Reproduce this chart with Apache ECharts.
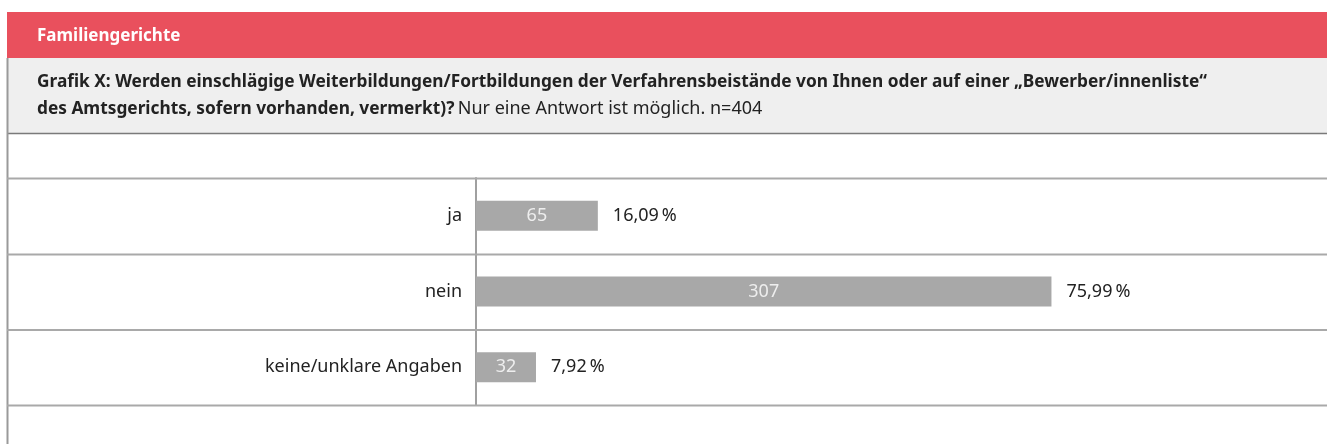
<!DOCTYPE html>
<html>
<head>
<meta charset="utf-8">
<script src="https://cdn.jsdelivr.net/npm/echarts@6/dist/echarts.min.js"></script>
<style>
    html, body { margin: 0; padding: 0; background: #fff; }
    #chart { width: 1327px; height: 444px; }
</style>
</head>
<body>
<div id="chart"></div>
<script>
    // Daten
    var categories = ['ja', 'nein', 'keine/unklare Angaben'];
    var counts = [65, 307, 32];
    var percentLabels = ['16,09\u2009%', '75,99\u2009%', '7,92\u2009%'];

    var font = 'Noto Sans';
    var chart = echarts.init(document.getElementById('chart'));

    // Trennlinien über die ganze Breite
    var rowLines = [178.5, 254.5, 330, 405.5].map(function (y) {
        return {
            type: 'line', z: 5,
            shape: { x1: 7, y1: y, x2: 1327, y2: y },
            style: { stroke: '#a9a9a9', lineWidth: 2 }
        };
    });

    chart.setOption({
        animation: false,
        graphic: [
            { type: 'rect', z: 1, shape: { x: 7, y: 12, width: 1320, height: 46 }, style: { fill: '#e9505d' } },
            { type: 'text', z: 2, x: 37, y: 36, style: { text: 'Familiengerichte', fill: '#fff', font: 'bold 17px ' + font, verticalAlign: 'middle' } },
            { type: 'rect', z: 1, shape: { x: 7, y: 58, width: 1320, height: 75 }, style: { fill: '#efefef' } },
            {
                type: 'text', z: 2, x: 37, y: 82,
                style: {
                    text: 'Grafik X: Werden einschlägige Weiterbildungen/Fortbildungen der Verfahrensbeistände von Ihnen oder auf einer „Bewerber/innenliste“',
                    fill: '#222', font: 'bold 17.3px ' + font, verticalAlign: 'middle'
                }
            },
            {
                type: 'text', z: 2, x: 37, y: 109,
                style: {
                    text: '{b|des Amtsgerichts, sofern vorhanden, vermerkt)?} {n|Nur eine Antwort ist möglich. n=404}',
                    verticalAlign: 'middle',
                    rich: {
                        b: { fontFamily: font, fontWeight: 'bold', fontSize: 17.3, fill: '#222' },
                        n: { fontFamily: font, fontSize: 18, fill: '#222' }
                    }
                }
            },
            { type: 'line', z: 5, shape: { x1: 7, y1: 133.5, x2: 1327, y2: 133.5 }, style: { stroke: '#7a7a7a', lineWidth: 1.5 } },
            { type: 'line', z: 5, shape: { x1: 7.5, y1: 58, x2: 7.5, y2: 444 }, style: { stroke: '#9a9a9a', lineWidth: 2 } }
        ].concat(rowLines),
        grid: { left: 476, right: 0, top: 178, bottom: 39, containLabel: false },
        xAxis: {
            type: 'value', min: 0, max: 454, show: false
        },
        yAxis: {
            type: 'category',
            inverse: true,
            data: categories,
            axisLine: { show: true, lineStyle: { color: '#a0a0a0', width: 2 } },
            axisTick: { show: false },
            axisLabel: { margin: 14, color: '#222', fontFamily: font, fontSize: 18 }
        },
        series: [
            {
                type: 'bar',
                data: counts,
                barWidth: 30,
                itemStyle: { color: '#a8a8a8' },
                label: { show: true, position: 'inside', color: '#eeeeee', fontFamily: font, fontSize: 18 }
            },
            {
                type: 'bar',
                data: counts,
                barWidth: 30,
                barGap: '-100%',
                itemStyle: { color: 'transparent' },
                label: {
                    show: true, position: 'right', distance: 15, color: '#222', fontFamily: font, fontSize: 18,
                    formatter: function (p) { return percentLabels[p.dataIndex]; }
                }
            }
        ]
    });
</script>
</body>
</html>
